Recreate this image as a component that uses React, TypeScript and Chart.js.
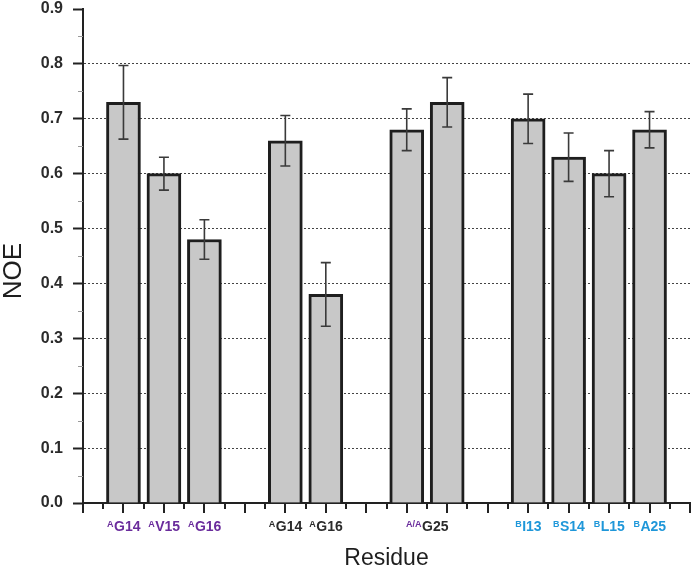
import React, { useEffect, useRef } from 'react';
import { Chart, registerables } from 'chart.js';

Chart.register(...registerables);

// Bar positions (category slot index along the residue axis) and values
const barSlots = [0, 1, 2, 4, 5, 7, 8, 10, 11, 12, 13];
const noeValues = [0.73, 0.60, 0.48, 0.66, 0.38, 0.68, 0.73, 0.70, 0.63, 0.60, 0.68];
const noeErrors = [0.067, 0.030, 0.036, 0.046, 0.058, 0.038, 0.045, 0.045, 0.044, 0.042, 0.033];

// Residue tick labels: superscript chain tag + residue name, slot position
const labelText = ['G14', 'V15', 'G16', 'G14', 'G16', 'G25', 'I13', 'S14', 'L15', 'A25'];
const labelSup = ['A', 'A', 'A', 'A', 'A', 'A/A', 'B', 'B', 'B', 'B'];
const labelSlot = [0, 1, 2, 4, 5, 7.5, 10, 11, 12, 13];
const labelGroup = ['p', 'p', 'p', 'k', 'k', 'k', 'b', 'b', 'b', 'b'];
const supGroup = ['p', 'p', 'p', 'k', 'k', 'p', 'b', 'b', 'b', 'b'];

const groupColors: Record<string, string> = { p: '#6a2c9c', k: '#2b2b2b', b: '#1f97d9' };
const FONT = '"Liberation Sans", Arial, Helvetica, sans-serif';

const decorPlugin = {
  id: 'decor',
  afterDraw(chart: any) {
    const ctx = chart.ctx as CanvasRenderingContext2D;
    const xs = chart.scales.x;
    const ys = chart.scales.y;
    const area = chart.chartArea;
    ctx.save();

    // error bars
    const meta = chart.getDatasetMeta(0);
    ctx.strokeStyle = '#3a3a3a';
    ctx.lineWidth = 1.6;
    meta.data.forEach((el: any, i: number) => {
      const x = el.x;
      const yt = ys.getPixelForValue(noeValues[i] + noeErrors[i]);
      const yb = ys.getPixelForValue(noeValues[i] - noeErrors[i]);
      ctx.beginPath();
      ctx.moveTo(x, yt);
      ctx.lineTo(x, yb);
      ctx.moveTo(x - 5, yt);
      ctx.lineTo(x + 5, yt);
      ctx.moveTo(x - 5, yb);
      ctx.lineTo(x + 5, yb);
      ctx.stroke();
    });

    // x-axis tick marks (major at slots, minor halfway)
    ctx.strokeStyle = '#222';
    ctx.lineWidth = 2;
    for (let s = xs.min; s <= xs.max + 1e-6; s += 0.5) {
      const px = Math.round(xs.getPixelForValue(s));
      const len = Math.abs(s - Math.round(s)) < 1e-6 ? 10 : 6;
      ctx.beginPath();
      ctx.moveTo(px, area.bottom);
      ctx.lineTo(px, area.bottom + len);
      ctx.stroke();
    }

    // y-axis minor ticks
    ctx.strokeStyle = '#9a9a9a';
    ctx.lineWidth = 1;
    for (let v = 0.05; v < 0.9; v += 0.1) {
      const py = Math.round(ys.getPixelForValue(v)) + 0.5;
      ctx.beginPath();
      ctx.moveTo(area.left - 5, py);
      ctx.lineTo(area.left, py);
      ctx.stroke();
    }

    // x tick labels with superscript chain tags
    labelText.forEach((t, i) => {
      const cx = xs.getPixelForValue(labelSlot[i]);
      ctx.font = `bold 9px ${FONT}`;
      const sw = ctx.measureText(labelSup[i]).width;
      ctx.font = `bold 14px ${FONT}`;
      const mw = ctx.measureText(t).width;
      const left = cx - (sw + mw) / 2;
      ctx.textAlign = 'left';
      ctx.textBaseline = 'alphabetic';
      ctx.font = `bold 9px ${FONT}`;
      ctx.fillStyle = groupColors[supGroup[i]];
      ctx.fillText(labelSup[i], left, area.bottom + 24);
      ctx.font = `bold 14px ${FONT}`;
      ctx.fillStyle = groupColors[labelGroup[i]];
      ctx.fillText(t, left + sw + 0.5, area.bottom + 28);
    });

    // y-axis title
    ctx.translate(13.5, 271);
    ctx.rotate(-Math.PI / 2);
    ctx.font = `26px ${FONT}`;
    ctx.fillStyle = '#1e1e1e';
    ctx.textAlign = 'center';
    ctx.textBaseline = 'middle';
    ctx.fillText('NOE', 0, 0);
    ctx.restore();
  },
};

export default function App() {
  const canvasRef = useRef<HTMLCanvasElement | null>(null);

  useEffect(() => {
    if (!canvasRef.current) return;
    const chart = new Chart(canvasRef.current, {
      type: 'bar',
      data: {
        datasets: [
          {
            data: barSlots.map((s, i) => ({ x: s, y: noeValues[i] })),
            backgroundColor: '#c8c8c8',
            borderColor: '#1e1e1e',
            borderWidth: 3,
            barThickness: 34,
          } as any,
        ],
      },
      options: {
        animation: false,
        responsive: false,
        layout: { padding: { top: 9, right: 3, left: 0, bottom: 0 } },
        plugins: { legend: { display: false }, tooltip: { enabled: false } },
        scales: {
          x: {
            type: 'linear',
            min: -1,
            max: 14,
            offset: false,
            ticks: { display: false },
            grid: { display: false, drawTicks: false },
            border: { display: true, color: '#222', width: 2 },
            title: {
              display: true,
              text: 'Residue',
              font: { size: 23, family: FONT },
              color: '#1e1e1e',
              padding: 0,
            },
            afterFit: (s: any) => {
              s.height = 69;
              s.paddingLeft = 0;
              s.paddingRight = 0;
            },
          },
          y: {
            min: 0,
            max: 0.9,
            ticks: {
              stepSize: 0.1,
              callback: (v: any) => Number(v).toFixed(1),
              font: { size: 16, family: FONT, weight: 'bold', lineHeight: 1 },
              color: '#2b2b2b',
              padding: 10,
            },
            grid: {
              color: (c: any) =>
                c.tick && c.tick.value > 0.001 && c.tick.value < 0.85 ? '#444' : 'rgba(0,0,0,0)',
              lineWidth: 1,
              tickColor: '#222',
              tickWidth: 2,
              tickLength: 10,
            },
            border: { display: true, color: '#222', width: 2, dash: [2, 2] },
            afterFit: (s: any) => {
              s.width = 83;
              s.paddingTop = 0;
              s.paddingBottom = 0;
            },
          },
        },
      } as any,
      plugins: [decorPlugin],
    });
    return () => chart.destroy();
  }, []);

  return (
    <div style={{ position: 'fixed', left: 0, top: 0, width: 693, height: 572, background: '#fff' }}>
      <canvas ref={canvasRef} width={693} height={572} style={{ display: 'block' }} />
    </div>
  );
}
